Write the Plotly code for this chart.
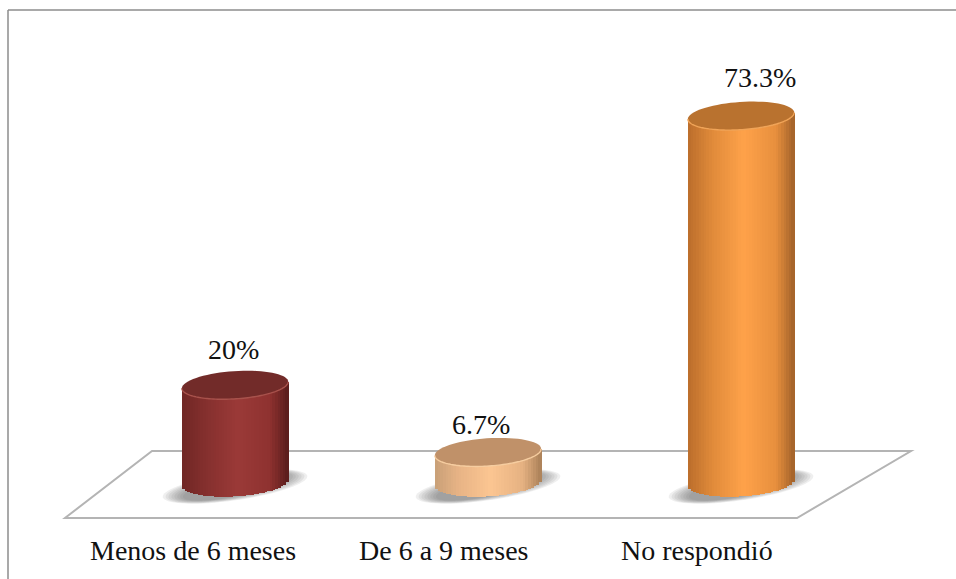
import numpy as np
import plotly.graph_objects as go

categories = ["Menos de 6 meses", "De 6 a 9 meses", "No respondió"]
values = [20, 6.7, 73.3]
value_labels = ["20%", "6.7%", "73.3%"]

W, H = 956, 579
X0, DX = 235, 253          # pixel centre of first bar, pixel step per category
Y0, DY = 486, 5.05         # pixel of value 0, pixels per value unit
BAR_W = 0.42               # bar width in category units
CAP_RY = 2.75              # ellipse half-height, value units
TILT = 0.65                # rise of the right side over the left, value units
BASE_LIFT = 0.7            # base ellipse sits slightly above the value origin
N = 40

# colour stops across the cylinder: left edge, shoulder, centre, right shoulder, right edge
stops = [
    ["#702725", "#85302e", "#9b3a38", "#8f3230", "#5a1d1c"],
    ["#c9a078", "#e8b486", "#fcc692", "#e6b282", "#ab8159"],
    ["#bb6e2c", "#e08a3a", "#ffa24a", "#e8903e", "#a3622a"],
]
cap_colors = ["#722b29", "#c09169", "#b9722f"]
rim_colors = ["#a8524c", "#f6cda0", "#f0a458"]
stop_pos = [-1, -0.55, 0.05, 0.65, 1]

xr = [(0 - X0) / DX, (W - X0) / DX]
yr = [(Y0 - H) / DY, Y0 / DY]


def hex2rgb(h):
    return np.array([int(h[i:i + 2], 16) for i in (1, 3, 5)], dtype=float)


def shade(stop_list, t):
    c = [np.interp(t, stop_pos, [hex2rgb(s)[k] for s in stop_list]) for k in range(3)]
    return "rgb(%d,%d,%d)" % tuple(int(v) for v in c)


def px(x):
    return x / W


def py(y):
    return 1 - y / H


def ellipse_path(cx, cy, rx, ry, tilt, a0=0, a1=2 * np.pi, close=True, n=72):
    a = np.linspace(a0, a1, n)
    xs = cx + rx * np.cos(a)
    ys = cy + ry * np.sin(a) + tilt * np.cos(a)
    d = "M" + " L".join(f"{x:.4f},{y:.4f}" for x, y in zip(xs, ys))
    return d + (" Z" if close else "")


fig = go.Figure()

# Cylinder bodies as thin overlaid bars, one trace per vertical strip
dw = BAR_W / N
for i in range(N):
    t = -1 + (2 * i + 1) / N
    bottom = BASE_LIFT - CAP_RY * np.sqrt(1 - t * t) + TILT * t
    tops = [v + TILT * t for v in values]
    fig.add_trace(go.Bar(
        x=list(range(len(categories))),
        y=[top - bottom for top in tops],
        base=[bottom] * len(values),
        width=dw * 1.15,
        offset=-BAR_W / 2 + i * dw,
        marker=dict(color=[shade(s, t) for s in stops], line=dict(width=0)),
        showlegend=False,
        hoverinfo="skip",
    ))

shapes = []
# Floor
floor = [(65, 518), (797, 518), (911, 451), (152, 451)]
shapes.append(dict(
    type="path", xref="paper", yref="paper", layer="below",
    path="M" + " L".join(f"{px(a):.5f},{py(b):.5f}" for a, b in floor) + " Z",
    line=dict(color="#b4b4b4", width=2), fillcolor="#ffffff",
))
# Frame
shapes.append(dict(type="line", xref="paper", yref="paper", x0=px(8), x1=px(8), y0=0, y1=py(10),
                   line=dict(color="#8c8c8c", width=1.5)))
shapes.append(dict(type="line", xref="paper", yref="paper", x0=px(8), x1=1, y0=py(10), y1=py(10),
                   line=dict(color="#8c8c8c", width=1.5)))
# Soft shadows under each cylinder
for i in range(len(values)):
    for grow in [1.0, 0.96, 0.92, 0.88, 0.84, 0.80, 0.76, 0.72]:
        shapes.append(dict(
            type="path", xref="x", yref="y", layer="below",
            path=ellipse_path(i + 0.0, -0.1, BAR_W * 0.68 * grow, CAP_RY * 1.0 * grow, 2.0),
            fillcolor="#606060", opacity=0.10, line=dict(width=0),
        ))
# Caps and highlights
for i, v in enumerate(values):
    shapes.append(dict(
        type="path", xref="x", yref="y",
        path=ellipse_path(i, v, BAR_W / 2, CAP_RY, TILT),
        fillcolor=cap_colors[i], line=dict(width=0),
    ))
    shapes.append(dict(
        type="path", xref="x", yref="y",
        path=ellipse_path(i, v, BAR_W / 2, CAP_RY, TILT, np.pi, 2 * np.pi, close=False),
        fillcolor="rgba(0,0,0,0)", line=dict(color=rim_colors[i], width=1.4),
    ))

label_dx = [-2, -7, 19]
label_dy = [35.5, 27.7, 38.3]
cat_dx = [-42.5, -44.5, -44.5]
font = dict(family="Liberation Serif", size=28, color="#111111")
annotations = []
for i, v in enumerate(values):
    annotations.append(dict(
        x=i, y=v, xref="x", yref="y", text=value_labels[i], showarrow=False,
        xshift=label_dx[i], yshift=label_dy[i], font=font,
    ))
    annotations.append(dict(
        x=i, y=py(550), xref="x", yref="paper", yanchor="middle", text=categories[i],
        showarrow=False, xshift=cat_dx[i], font=font,
    ))

fig.update_layout(
    width=W, height=H, margin=dict(l=0, r=0, t=0, b=0),
    paper_bgcolor="white", plot_bgcolor="rgba(0,0,0,0)",
    barmode="overlay", bargap=0,
    xaxis=dict(range=xr, visible=False, fixedrange=True),
    yaxis=dict(range=yr, visible=False, fixedrange=True),
    shapes=shapes, annotations=annotations, showlegend=False,
)
fig.write_html("out.html", post_script="document.body.style.margin='0';",
               config={"displayModeBar": False})
